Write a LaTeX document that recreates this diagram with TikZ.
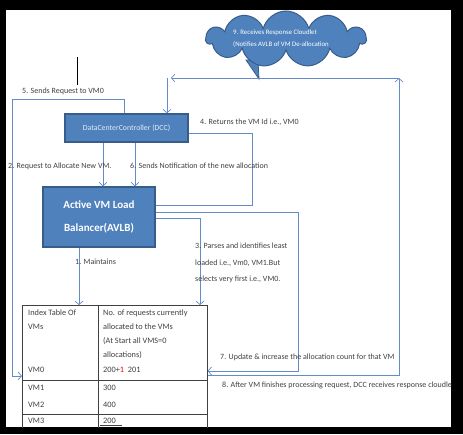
\documentclass[tikz,border=0pt]{standalone}
\usepackage{fontspec}
\setmainfont{Carlito}
\usepackage{xcolor}
\usetikzlibrary{arrows.meta,shapes.symbols,positioning}
\definecolor{boxblue}{RGB}{79,129,189}
\definecolor{boxedge}{RGB}{56,93,138}
\definecolor{linkblue}{RGB}{100,140,200}
\definecolor{inktext}{RGB}{64,64,64}

\begin{document}
\begin{tikzpicture}[x=1pt,y=-1pt,
  box/.style={draw=boxedge,line width=1.5pt,fill=boxblue,inner sep=0pt},
  link/.style={draw=linkblue,line width=0.7pt},
  arr/.style={link,-{Straight Barb[length=3.5pt,width=8pt]}},
  lbl/.style={font=\fontsize{8}{9}\selectfont,text=inktext,inner sep=0pt,anchor=west},
  cell/.style={font=\fontsize{8.3}{14}\selectfont,text=inktext,inner sep=0pt,anchor=north west,align=left}]
  \useasboundingbox (0,0) rectangle (463,434);
  \fill[black] (0,0) rectangle (463,434);
  \fill[white] (6,10) rectangle (451,427);

  % boxes
  \node[box,minimum width=123pt,minimum height=28pt,text=white!85!boxblue,
    font=\fontsize{7.8}{9}\selectfont] (dcc) at (126.5,128) {DataCenterController (DCC)};
  \node[box,minimum width=112pt,minimum height=60pt,text=white,align=center,
    font=\fontsize{11}{23}\selectfont\bfseries] (avlb) at (99,217) {Active VM Load\\Balancer(AVLB)};

  % cloud with its tail
  \filldraw[fill=boxblue,draw=boxedge,line width=0.8pt] (246,60) -- (259,79) -- (258,60) -- cycle;
  \node[cloud,cloud puffs=11,cloud ignores aspect,fill=boxblue,draw=boxedge,line width=1pt,
    minimum width=160pt,minimum height=56pt] (cloud) at (286,39) {};
  \node[lbl,anchor=north west,align=left,text=white,font=\fontsize{6.8}{12}\selectfont]
    (cloudtxt) at (233,30) {9. Receives Response Cloudlet\\(Notifies AVLB of VM De-allocation};

  % index table
  \begin{scope}
    \clip (6,10) rectangle (451,427);
    \node[draw=black!75,line width=0.6pt,minimum width=185pt,minimum height=140pt,
      anchor=north west,inner sep=0pt] (tbl) at (22,305) {};
    \draw[black!75,line width=0.6pt] (tbl.north west) ++(76,0) coordinate (col) -- (col |- tbl.south);
  \end{scope}
  \draw[black!75,line width=0.6pt] (22,380) -- (207,380) (22,414) -- (207,414);
  \draw[black!75,line width=0.6pt] (100,425) -- (122,425);
  \node[cell] (idx) at (28,310) {Index Table Of\\VMs};
  \node[cell] (req) at (103,310) {No. of requests currently\\allocated to the VMs\\(At Start all VMS=0\\allocations)};
  \node[cell,anchor=west] (vm0) at (28,370) {VM0};
  \node[cell,anchor=west] (n0) at (103,370) {200+\textcolor{red}{1}\ \ 201};
  \node[cell,anchor=west] (vm1) at (28,388) {VM1};
  \node[cell,anchor=west] (n1) at (103,388) {300};
  \node[cell,anchor=west] (vm2) at (28,405) {VM2};
  \node[cell,anchor=west] (n2) at (103,405) {400};
  \node[cell,anchor=west] (vm3) at (28,421) {VM3};
  \node[cell,anchor=west] (n3) at (103,421) {200};

  % bend points
  \coordinate (ret) at (252,133);
  \coordinate (upd) at (298,371);
  \coordinate (sel) at (200,218);
  \coordinate (snd) at (12,99);
  \coordinate (vm0w) at (22,376);
  \coordinate (back) at (399,375);
  \coordinate (topr) at (399,78);
  \coordinate (topl) at (171,78);

  % connectors
  \draw[arr] ([xshift=-20pt]avlb.south) -- ([xshift=-20pt]avlb.south |- tbl.north);
  \draw[arr] ([xshift=-23.5pt]dcc.south) -- ([xshift=-23.5pt]dcc.south |- avlb.north);
  \draw[arr] ([xshift=8.5pt]dcc.south) -- ([xshift=8.5pt]dcc.south |- avlb.north);
  \draw[link] ([yshift=12pt]avlb.east) -| (ret) -- ([yshift=-5pt]dcc.east);
  \draw[arr] ([yshift=5pt]avlb.east) -| (upd) -- (upd -| tbl.east);
  \draw[arr] ([yshift=-1pt]avlb.east) -| (sel |- tbl.north);
  \draw[arr] ([xshift=-2.5pt]dcc.north) |- (snd) |- (vm0w);
  \draw[arr] (back -| tbl.east) -- (back) -- (topr);
  \draw[arr] (topr) -- (topl);
  \draw[arr] ([xshift=40.5pt]dcc.north |- topl) -- ([xshift=40.5pt]dcc.north);
  \draw[black,line width=0.8pt] (77,57) -- (77,85);

  % step labels
  \node[lbl] (l5) at (22,91) {5. Sends Request to VM0};
  \node[lbl] (l4) at (200,122) {4. Returns the VM Id i.e., VM0};
  \node[lbl] (l2) at (8,166) {2. Request to Allocate New VM.};
  \node[lbl] (l6) at (130,166) {6. Sends Notification of the new allocation};
  \node[lbl] (l1) at (75,262) {1. Maintains};
  \node[lbl,anchor=north west,align=left,font=\fontsize{8}{16.5}\selectfont]
    (l3) at (195,243) {3. Parses and identifies least\\loaded i.e., Vm0, VM1.But\\selects very first i.e., VM0.};
  \node[lbl] (l7) at (220,357) {7. Update \& increase the allocation count for that VM};
  \begin{scope}
    \clip (6,10) rectangle (451,427);
    \node[lbl] (l8) at (222,385) {8. After VM finishes processing request, DCC receives response cloudlet};
  \end{scope}
\end{tikzpicture}
\end{document}
